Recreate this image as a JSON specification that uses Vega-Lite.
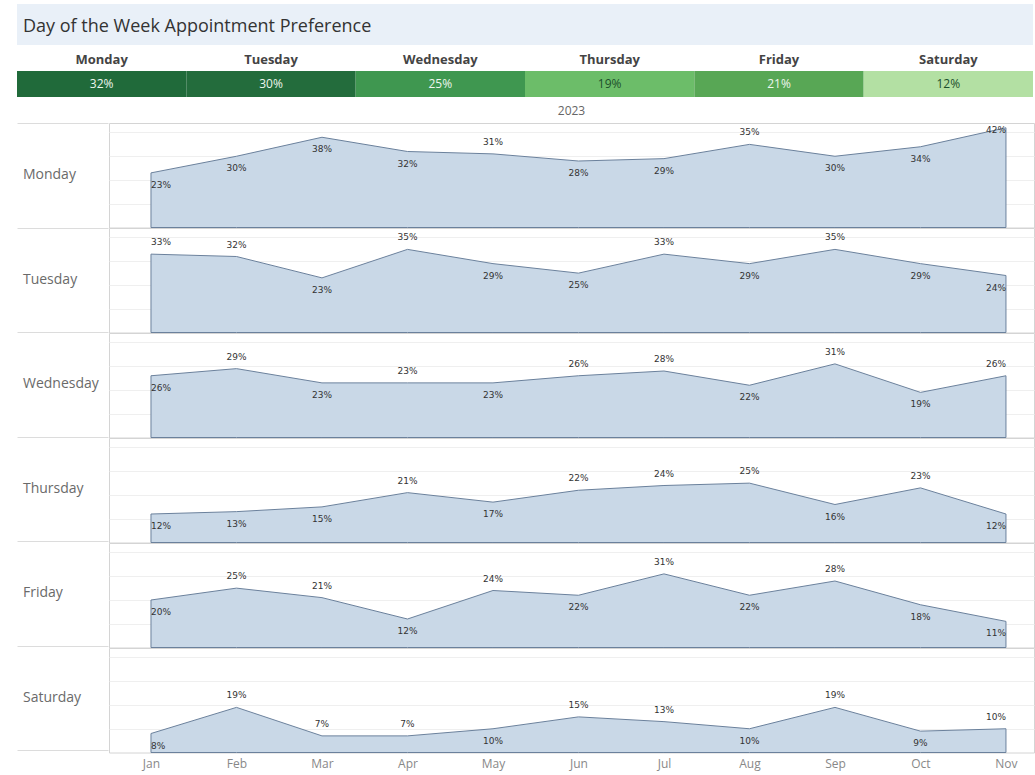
{
  "$schema": "https://vega.github.io/schema/vega-lite/v6.json",
  "background": "white",
  "padding": {"left": 17, "top": 4, "right": 0, "bottom": 5},
  "config": {
    "font": "Open Sans",
    "view": {"stroke": null}
  },
  "datasets": {
    "summary": [
      {"day": "Monday", "share": 0.32},
      {"day": "Tuesday", "share": 0.30},
      {"day": "Wednesday", "share": 0.25},
      {"day": "Thursday", "share": 0.19},
      {"day": "Friday", "share": 0.21},
      {"day": "Saturday", "share": 0.12}
    ],
    "monthly": [
      {"year": 2023, "day": "Monday", "month": 1, "share": 0.23},
      {"year": 2023, "day": "Monday", "month": 2, "share": 0.30},
      {"year": 2023, "day": "Monday", "month": 3, "share": 0.38},
      {"year": 2023, "day": "Monday", "month": 4, "share": 0.32},
      {"year": 2023, "day": "Monday", "month": 5, "share": 0.31},
      {"year": 2023, "day": "Monday", "month": 6, "share": 0.28},
      {"year": 2023, "day": "Monday", "month": 7, "share": 0.29},
      {"year": 2023, "day": "Monday", "month": 8, "share": 0.35},
      {"year": 2023, "day": "Monday", "month": 9, "share": 0.30},
      {"year": 2023, "day": "Monday", "month": 10, "share": 0.34},
      {"year": 2023, "day": "Monday", "month": 11, "share": 0.42},
      {"year": 2023, "day": "Tuesday", "month": 1, "share": 0.33},
      {"year": 2023, "day": "Tuesday", "month": 2, "share": 0.32},
      {"year": 2023, "day": "Tuesday", "month": 3, "share": 0.23},
      {"year": 2023, "day": "Tuesday", "month": 4, "share": 0.35},
      {"year": 2023, "day": "Tuesday", "month": 5, "share": 0.29},
      {"year": 2023, "day": "Tuesday", "month": 6, "share": 0.25},
      {"year": 2023, "day": "Tuesday", "month": 7, "share": 0.33},
      {"year": 2023, "day": "Tuesday", "month": 8, "share": 0.29},
      {"year": 2023, "day": "Tuesday", "month": 9, "share": 0.35},
      {"year": 2023, "day": "Tuesday", "month": 10, "share": 0.29},
      {"year": 2023, "day": "Tuesday", "month": 11, "share": 0.24},
      {"year": 2023, "day": "Wednesday", "month": 1, "share": 0.26},
      {"year": 2023, "day": "Wednesday", "month": 2, "share": 0.29},
      {"year": 2023, "day": "Wednesday", "month": 3, "share": 0.23},
      {"year": 2023, "day": "Wednesday", "month": 4, "share": 0.23},
      {"year": 2023, "day": "Wednesday", "month": 5, "share": 0.23},
      {"year": 2023, "day": "Wednesday", "month": 6, "share": 0.26},
      {"year": 2023, "day": "Wednesday", "month": 7, "share": 0.28},
      {"year": 2023, "day": "Wednesday", "month": 8, "share": 0.22},
      {"year": 2023, "day": "Wednesday", "month": 9, "share": 0.31},
      {"year": 2023, "day": "Wednesday", "month": 10, "share": 0.19},
      {"year": 2023, "day": "Wednesday", "month": 11, "share": 0.26},
      {"year": 2023, "day": "Thursday", "month": 1, "share": 0.12},
      {"year": 2023, "day": "Thursday", "month": 2, "share": 0.13},
      {"year": 2023, "day": "Thursday", "month": 3, "share": 0.15},
      {"year": 2023, "day": "Thursday", "month": 4, "share": 0.21},
      {"year": 2023, "day": "Thursday", "month": 5, "share": 0.17},
      {"year": 2023, "day": "Thursday", "month": 6, "share": 0.22},
      {"year": 2023, "day": "Thursday", "month": 7, "share": 0.24},
      {"year": 2023, "day": "Thursday", "month": 8, "share": 0.25},
      {"year": 2023, "day": "Thursday", "month": 9, "share": 0.16},
      {"year": 2023, "day": "Thursday", "month": 10, "share": 0.23},
      {"year": 2023, "day": "Thursday", "month": 11, "share": 0.12},
      {"year": 2023, "day": "Friday", "month": 1, "share": 0.20},
      {"year": 2023, "day": "Friday", "month": 2, "share": 0.25},
      {"year": 2023, "day": "Friday", "month": 3, "share": 0.21},
      {"year": 2023, "day": "Friday", "month": 4, "share": 0.12},
      {"year": 2023, "day": "Friday", "month": 5, "share": 0.24},
      {"year": 2023, "day": "Friday", "month": 6, "share": 0.22},
      {"year": 2023, "day": "Friday", "month": 7, "share": 0.31},
      {"year": 2023, "day": "Friday", "month": 8, "share": 0.22},
      {"year": 2023, "day": "Friday", "month": 9, "share": 0.28},
      {"year": 2023, "day": "Friday", "month": 10, "share": 0.18},
      {"year": 2023, "day": "Friday", "month": 11, "share": 0.11},
      {"year": 2023, "day": "Saturday", "month": 1, "share": 0.08},
      {"year": 2023, "day": "Saturday", "month": 2, "share": 0.19},
      {"year": 2023, "day": "Saturday", "month": 3, "share": 0.07},
      {"year": 2023, "day": "Saturday", "month": 4, "share": 0.07},
      {"year": 2023, "day": "Saturday", "month": 5, "share": 0.10},
      {"year": 2023, "day": "Saturday", "month": 6, "share": 0.15},
      {"year": 2023, "day": "Saturday", "month": 7, "share": 0.13},
      {"year": 2023, "day": "Saturday", "month": 8, "share": 0.10},
      {"year": 2023, "day": "Saturday", "month": 9, "share": 0.19},
      {"year": 2023, "day": "Saturday", "month": 10, "share": 0.09},
      {"year": 2023, "day": "Saturday", "month": 11, "share": 0.10}
    ]
  },
  "spacing": 8,
  "vconcat": [
    {
      "width": 1016,
      "height": 41,
      "view": {"fill": "#e9f0f8", "stroke": null},
      "title": {
        "text": "Day of the Week Appointment Preference",
        "anchor": "start",
        "frame": "group",
        "orient": "top",
        "offset": -32,
        "dx": 6,
        "fontSize": 18,
        "fontWeight": "normal",
        "font": "Open Sans",
        "color": "#333333"
      },
      "data": {"values": [{"band": 1}]},
      "mark": {"type": "rect", "color": "#e9f0f8"},
      "encoding": {}
    },
    {
      "width": 1016,
      "height": 26,
      "data": {"name": "summary"},
      "encoding": {
        "x": {
          "field": "day",
          "type": "nominal",
          "sort": ["Monday", "Tuesday", "Wednesday", "Thursday", "Friday", "Saturday"],
          "scale": {"paddingInner": 0, "paddingOuter": 0},
          "axis": {
            "orient": "top",
            "title": null,
            "domain": false,
            "ticks": false,
            "labelAngle": 0,
            "labelFont": "Open Sans",
            "labelFontWeight": "bold",
            "labelFontSize": 13,
            "labelColor": "#444444",
            "labelPadding": 5
          }
        }
      },
      "layer": [
        {
          "mark": {"type": "rect"},
          "encoding": {
            "color": {
              "field": "share",
              "type": "quantitative",
              "scale": {
                "domain": [0.12, 0.19, 0.21, 0.25, 0.30, 0.32],
                "range": ["#b3e0a3", "#6cbd69", "#58a755", "#3f9750", "#236c3c", "#206a3a"]
              },
              "legend": null
            }
          }
        },
        {
          "mark": {"type": "text", "fontSize": 12, "font": "Open Sans"},
          "encoding": {
            "text": {"field": "share", "type": "quantitative", "format": ".0%"},
            "color": {
              "condition": {"test": "datum.share >= 0.2", "value": "#eef6ee"},
              "value": "#1d4f2c"
            }
          }
        }
      ]
    },
    {
      "spacing": 0,
      "hconcat": [
        {
          "width": 91,
          "height": 627,
          "data": {"name": "summary"},
          "mark": {
            "type": "text",
            "align": "left",
            "baseline": "middle",
            "font": "Open Sans",
            "fontSize": 14,
            "color": "#6a6a6a"
          },
          "encoding": {
            "x": {
              "datum": 0,
              "type": "quantitative",
              "scale": {"domain": [-0.07, 1], "nice": false, "zero": false},
              "axis": null
            },
            "y": {
              "field": "day",
              "type": "nominal",
              "sort": ["Monday", "Tuesday", "Wednesday", "Thursday", "Friday", "Saturday"],
              "scale": {"paddingInner": 0, "paddingOuter": 0},
              "axis": {
                "title": null,
                "labels": false,
                "ticks": false,
                "domain": false,
                "grid": true,
                "tickBand": "extent",
                "gridColor": "#dcdcdc"
              }
            },
            "text": {"field": "day", "type": "nominal"}
          }
        },
        {
          "data": {"name": "monthly"},
          "bounds": "flush",
          "facet": {
            "row": {
              "field": "day",
              "type": "nominal",
              "sort": ["Monday", "Tuesday", "Wednesday", "Thursday", "Friday", "Saturday"],
              "title": null,
              "header": {"labels": false}
            },
            "column": {
              "field": "year",
              "type": "ordinal",
              "title": null,
              "header": {
                "labelFont": "Open Sans",
                "labelFontSize": 12,
                "labelColor": "#666666",
                "labelPadding": 5
              }
            }
          },
          "spacing": {"row": 0, "column": 0},
          "spec": {
            "width": 925,
            "height": 104.5,
            "view": {"stroke": "#d4d4d4"},
            "encoding": {
              "x": {
                "field": "month",
                "type": "quantitative",
                "scale": {"domain": [0.509, 11.328], "nice": false, "zero": false},
                "axis": {
                  "title": null,
                  "values": [1, 2, 3, 4, 5, 6, 7, 8, 9, 10, 11],
                  "labelExpr": "['Jan','Feb','Mar','Apr','May','Jun','Jul','Aug','Sep','Oct','Nov'][datum.value - 1]",
                  "grid": false,
                  "ticks": false,
                  "domain": false,
                  "labelFont": "Open Sans",
                  "labelFontSize": 12,
                  "labelColor": "#888888",
                  "labelPadding": 5,
                  "labelFlush": false
                }
              },
              "y": {
                "field": "share",
                "type": "quantitative",
                "scale": {"domain": [0, 0.44], "nice": false},
                "axis": {
                  "title": null,
                  "labels": false,
                  "ticks": false,
                  "domain": false,
                  "grid": true,
                  "values": [0.1, 0.2, 0.3, 0.4],
                  "gridColor": "#efefef"
                }
              }
            },
            "layer": [
              {
                "mark": {
                  "type": "area",
                  "color": "#c9d8e7",
                  "opacity": 1,
                  "stroke": "#6b819c",
                  "strokeWidth": 1
                }
              },
              {
                "transform": [
                  {
                    "window": [
                      {"op": "lag", "field": "share", "as": "prev"},
                      {"op": "lead", "field": "share", "as": "next"}
                    ],
                    "groupby": ["day"],
                    "sort": [{"field": "month"}]
                  },
                  {
                    "calculate": "datum.prev == null ? datum.share >= datum.next : (datum.next == null ? datum.share >= datum.prev : datum.share >= (datum.prev + datum.next) / 2)",
                    "as": "up"
                  },
                  {
                    "calculate": "datum.share > 0.4 ? 2 : (datum.share > 0.36 ? 12 : (datum.share < 0.08 ? -12 : (datum.up ? -12 : 12)))",
                    "as": "shift"
                  }
                ],
                "mark": {
                  "type": "text",
                  "font": "DejaVu Sans",
                  "fontSize": 9,
                  "color": "#333333",
                  "baseline": "middle",
                  "dy": {"expr": "datum.shift"},
                  "align": {"expr": "datum.month == 1 ? 'left' : (datum.month == 11 ? 'right' : 'center')"}
                },
                "encoding": {
                  "text": {"field": "share", "type": "quantitative", "format": ".0%"}
                }
              }
            ]
          },
          "resolve": {"scale": {"x": "shared", "y": "shared"}}
        }
      ]
    }
  ]
}
